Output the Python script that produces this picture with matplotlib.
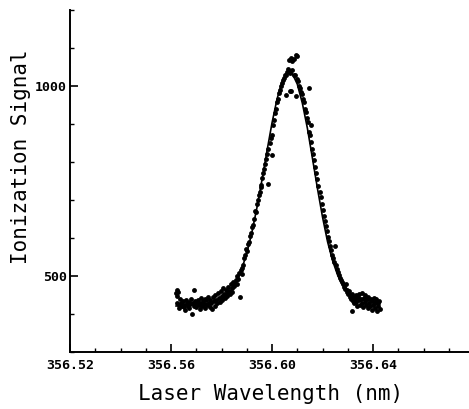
import numpy as np
import matplotlib
matplotlib.use("Agg")
import matplotlib.pyplot as plt
from matplotlib.ticker import MultipleLocator

# ---- fitted curve ----
FIT_X = [356.562, 356.564, 356.566, 356.568, 356.570, 356.572, 356.574, 356.576,
         356.578, 356.580, 356.582, 356.584, 356.586, 356.588, 356.590, 356.592,
         356.594, 356.596, 356.598, 356.600, 356.602, 356.604, 356.606, 356.607,
         356.608, 356.610, 356.612, 356.614, 356.616, 356.618, 356.620, 356.622,
         356.624, 356.626, 356.628, 356.630, 356.632, 356.634, 356.636, 356.638,
         356.640, 356.642]
FIT_Y = [421, 422, 423, 424, 425, 426.5, 428, 431,
         435, 441, 450, 464, 486, 518, 560, 614,
         679, 752, 829, 903, 966, 1012, 1036, 1038,
         1033, 1005, 955, 889, 810, 730, 655, 590,
         540, 502, 476, 458, 446, 440, 437, 435,
         433, 432]

# ---- measured points ----
PTS_X = [
    356.5620, 356.5622, 356.5625, 356.5627, 356.5624, 356.5630, 356.5633, 356.5636,
    356.5640, 356.5643, 356.5646, 356.5650, 356.5653, 356.5656, 356.5660, 356.5663,
    356.5666, 356.5670, 356.5673, 356.5676, 356.5680, 356.5683, 356.5686, 356.5690,
    356.5693, 356.5696, 356.5700, 356.5703, 356.5706, 356.5710, 356.5713, 356.5716,
    356.5720, 356.5723, 356.5726, 356.5730, 356.5733, 356.5736, 356.5740, 356.5743,
    356.5746, 356.5750, 356.5753, 356.5756, 356.5760, 356.5763, 356.5766, 356.5770,
    356.5773, 356.5776, 356.5780, 356.5783, 356.5786, 356.5790, 356.5793, 356.5796,
    356.5800, 356.5803, 356.5806, 356.5810, 356.5813, 356.5816, 356.5820, 356.5823,
    356.5826, 356.5830, 356.5833, 356.5836, 356.5840, 356.5843, 356.5846, 356.5850,
    356.5856, 356.5860, 356.5863, 356.5866, 356.5870, 356.5873, 356.5876, 356.5880,
    # rising edge
    356.5883, 356.5887, 356.5890, 356.5893, 356.5897, 356.5900, 356.5904, 356.5908,
    356.5912, 356.5916, 356.5920, 356.5924, 356.5928, 356.5932, 356.5936, 356.5940,
    356.5944, 356.5948, 356.5952, 356.5955, 356.5958, 356.5962, 356.5966, 356.5985,
    356.5970, 356.5974, 356.5978, 356.5982, 356.5986, 356.5990, 356.5994, 356.5999,
    356.5998, 356.6002, 356.6006, 356.6010, 356.6014, 356.6018, 356.6022, 356.6026,
    356.6030, 356.6034, 356.6038, 356.6042, 356.6046, 356.6050, 356.6054, 356.6058,
    356.6062,
    # peak
    356.6066, 356.6075, 356.6079, 356.6086, 356.6095, 356.6099,
    356.6055, 356.6075, 356.6093, 356.6070,
    356.6066, 356.6072, 356.6080, 356.6088, 356.6092, 356.6100, 356.6104, 356.6108,
    356.6112, 356.6116, 356.6120, 356.6148, 356.6153,
    # falling edge
    356.6124, 356.6128, 356.6132, 356.6136, 356.6140, 356.6144, 356.6148, 356.6152,
    356.6156, 356.6160, 356.6164, 356.6168, 356.6172, 356.6176, 356.6180, 356.6184,
    356.6188, 356.6192, 356.6196, 356.6200, 356.6204, 356.6208, 356.6212, 356.6216,
    356.6220, 356.6224, 356.6228, 356.6232, 356.6236, 356.6240, 356.6244, 356.6250,
    356.6252, 356.6256, 356.6260, 356.6264, 356.6268, 356.6272, 356.6276, 356.6280,
    # right baseline
    356.6284, 356.6288, 356.6292, 356.6295, 356.6298, 356.6302, 356.6305, 356.6308,
    356.6312, 356.6315, 356.6316, 356.6319, 356.6322, 356.6325, 356.6328, 356.6331,
    356.6334, 356.6337, 356.6340, 356.6343, 356.6346, 356.6349, 356.6352, 356.6355,
    356.6358, 356.6361, 356.6364, 356.6367, 356.6370, 356.6373, 356.6376, 356.6379,
    356.6382, 356.6385, 356.6388, 356.6391, 356.6394, 356.6397, 356.6400, 356.6403,
    356.6406, 356.6409, 356.6412, 356.6415, 356.6418, 356.6421, 356.6424, 356.6427,
]
PTS_Y = [
    455, 462, 448, 458, 430, 425, 415, 440,
    428, 420, 433, 418, 425, 410, 437, 428,
    421, 432, 415, 426, 440, 399, 430, 462,
    422, 435, 418, 428, 437, 425, 412, 430,
    442, 420, 433, 427, 440, 415, 436, 424,
    445, 430, 418, 438, 428, 412, 445, 433,
    422, 450, 438, 428, 455, 443, 432, 460,
    447, 437, 468, 452, 443, 462, 455, 447,
    472, 460, 452, 478, 468, 458, 485, 474,
    490, 480, 500, 492, 508, 445, 515, 505,
    522, 530, 548, 556, 570, 566, 585, 590,
    605, 612, 628, 635, 650, 672, 668, 690,
    700, 712, 722, 735, 740, 758, 770, 742,
    782, 796, 808, 820, 834, 850, 862, 818,
    872, 898, 910, 930, 940, 958, 965, 982,
    990, 1000, 1008, 1015, 1022, 1030, 1028, 1036,
    1045,
    1069, 1073, 1067, 1071, 1082, 1079,
    976, 986, 975, 988,
    1040, 1035, 1042, 1030, 1028, 1018, 1012, 1000,
    995, 985, 978, 995, 898,
    965, 958, 940, 932, 915, 905, 880, 872,
    852, 835, 822, 805, 788, 772, 755, 738,
    722, 708, 690, 675, 658, 645, 632, 618,
    602, 592, 580, 568, 556, 548, 536, 578,
    528, 518, 510, 502, 496, 490, 484, 478,
    472, 465, 478, 458, 463, 452, 460, 446,
    440, 452, 407, 435, 445, 428, 440, 450,
    432, 420, 445, 438, 452, 425, 440, 430,
    455, 418, 442, 432, 450, 425, 440, 415,
    445, 430, 420, 440, 410, 435, 425, 442,
    415, 428, 440, 408, 430, 420, 435, 412,
]

X_MAJOR = [356.52, 356.56, 356.60, 356.64]
Y_MAJOR = [500, 1000]

MONO = "DejaVu Sans Mono"

fig = plt.figure(figsize=(4.69, 4.09), dpi=100)
ax = fig.add_axes([70 / 469, 57 / 409, 399 / 469, 342 / 409])

ax.plot(FIT_X, FIT_Y, color="black", linewidth=1.2, zorder=2)
ax.plot(PTS_X, PTS_Y, linestyle="none", marker="o", markersize=3.5,
        color="black", markeredgewidth=0, zorder=3)

ax.set_xlim(356.52, 356.678)
ax.set_ylim(300, 1200)

for s in ("top", "right"):
    ax.spines[s].set_visible(False)
for s in ("left", "bottom"):
    ax.spines[s].set_linewidth(1.4)

ax.set_xticks(X_MAJOR)
ax.set_xticklabels([f"{v:.2f}" for v in X_MAJOR])
ax.xaxis.set_minor_locator(MultipleLocator(0.01))
ax.set_yticks(Y_MAJOR)
ax.set_yticklabels([str(v) for v in Y_MAJOR])
ax.yaxis.set_minor_locator(MultipleLocator(100))

ax.tick_params(which="major", direction="in", length=6, width=1.2)
ax.tick_params(which="minor", direction="in", length=3, width=1.0)
ax.tick_params(axis="x", which="major", pad=5)
ax.tick_params(axis="y", which="major", pad=2)
for lab in ax.get_xticklabels() + ax.get_yticklabels():
    lab.set_fontfamily(MONO)
    lab.set_fontweight("bold")
    lab.set_fontsize(9.5)

fig.text(21 / 469, 1 - 157 / 409, "Ionization Signal", rotation=90,
         ha="center", va="center", fontsize=15, family=MONO)
fig.text(271 / 469, 1 - 394 / 409, "Laser Wavelength (nm)",
         ha="center", va="center", fontsize=15, family=MONO)

fig.savefig("out.png", dpi=100)
